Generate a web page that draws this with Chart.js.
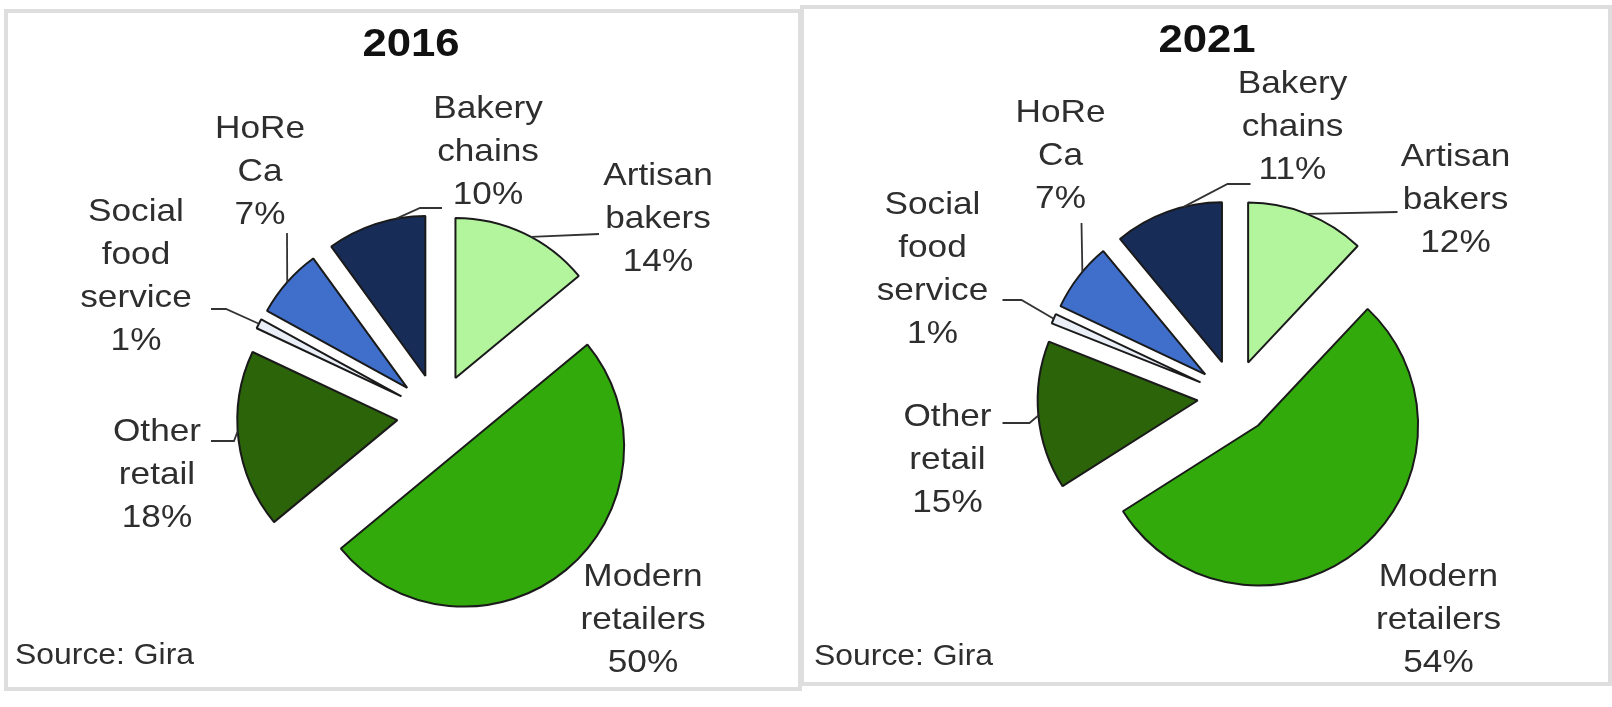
<!DOCTYPE html>
<html>
<head>
<meta charset="utf-8">
<script src="https://cdn.jsdelivr.net/npm/chart.js@4.4.1/dist/chart.umd.min.js"></script>
<style>
    html, body { margin: 0; padding: 0; background: #fff; }
    body { position: relative; width: 1612px; height: 707px; overflow: hidden; }
    .panel { position: absolute; box-sizing: border-box; border: 4px solid #dedede; }
    canvas { position: absolute; }
</style>
</head>
<body>
<div class="panel" id="panel-2016"></div>
<div class="panel" id="panel-2021"></div>
<canvas id="chart-2016"></canvas>
<canvas id="chart-2021"></canvas>

<script>
// Market channels, clockwise from 12 o'clock
const categories = ['Artisan bakers', 'Modern retailers', 'Other retail', 'Social food service', 'HoReCa', 'Bakery chains'];
const labelLines = [['Artisan', 'bakers'], ['Modern', 'retailers'], ['Other', 'retail'], ['Social', 'food', 'service'], ['HoRe', 'Ca'], ['Bakery', 'chains']];
const share2016 = [14, 50, 18, 1, 7, 10];
const share2021 = [12, 54, 15, 1, 7, 11];
const years = ['2016', '2021'];
const sourceText = 'Source: Gira';

const sliceColors = ['#b3f59c', '#33aa0c', '#2c6409', '#e9eef7', '#3f6fcb', '#182c58'];

// Panel boxes on the page
const panels = [
    { x: 4, y: 9, w: 798, h: 682, pad: { left: 70, top: 130 }, explode: 41 },
    { x: 800, y: 5, w: 812, h: 681, pad: { left: 57, top: 103 }, explode: 37 }
];

// Label block positions (first line), relative to pie centre
const labelPos2016 = [[220, -239], [205, 162], [-281, 17], [-302, -203], [-178, -286], [50, -306]];
const labelPos2021 = [[221, -240], [204, 180], [-287, 20], [-302, -192], [-174, -284], [58, -313]];

// Leader lines: t = where on the slice's arc the line lands, pts = points from the text side
const leaders2016 = [
    { t: 0.56, pts: [[161, -181]] },
    null,
    { t: 0.55, pts: [[-227, 26], [-204, 26]] },
    { t: 0.5, pts: [[-227, -106], [-212, -106]] },
    { t: 0.5, pts: [[-151, -182]] },
    { t: 0.71, pts: [[4, -207], [-18, -207]] }
];
const leaders2021 = [
    { t: 0.5, pts: [[163, -185]] },
    null,
    { t: 0.5, pts: [[-232, 26], [-205, 26]] },
    { t: 0.5, pts: [[-232, -97], [-213, -97]] },
    { t: 0.58, pts: [[-153, -174]] },
    { t: 0.65, pts: [[16, -213], [-7, -213]] }
];

const LINE_H = 43;
const TEXT_STRETCH = 1.1;

function stretchedText(ctx, text, x, y, sx) {
    ctx.save();
    ctx.translate(x, y);
    ctx.scale(sx, 1);
    ctx.fillText(text, 0, 0);
    ctx.restore();
}

// Draws each slice pushed out along its middle angle, then labels and leaders
function explodedPie(cfg) {
    return {
        id: 'explodedPie',
        beforeDatasetDraw(chart, args) {
            const ctx = chart.ctx;
            const meta = chart.getDatasetMeta(args.index);
            meta.data.forEach(arc => {
                const mid = (arc.startAngle + arc.endAngle) / 2;
                ctx.save();
                ctx.translate(Math.cos(mid) * cfg.explode, Math.sin(mid) * cfg.explode);
                arc.draw(ctx);
                ctx.restore();
            });
            return false;
        },
        afterDraw(chart) {
            const ctx = chart.ctx;
            const meta = chart.getDatasetMeta(0);
            const values = chart.data.datasets[0].data;
            const cx = meta.data[0].x;
            const cy = meta.data[0].y;

            // leader lines
            ctx.save();
            ctx.strokeStyle = '#333';
            ctx.lineWidth = 1.8;
            meta.data.forEach((arc, i) => {
                const ld = cfg.leaders[i];
                if (!ld) return;
                const mid = (arc.startAngle + arc.endAngle) / 2;
                const a = arc.startAngle + ld.t * (arc.endAngle - arc.startAngle);
                const ex = arc.x + Math.cos(mid) * cfg.explode + Math.cos(a) * arc.outerRadius;
                const ey = arc.y + Math.sin(mid) * cfg.explode + Math.sin(a) * arc.outerRadius;
                ctx.beginPath();
                ld.pts.forEach((p, k) => {
                    if (k === 0) ctx.moveTo(cx + p[0], cy + p[1]);
                    else ctx.lineTo(cx + p[0], cy + p[1]);
                });
                ctx.lineTo(ex, ey);
                ctx.stroke();
            });
            ctx.restore();

            // slice labels
            ctx.save();
            ctx.fillStyle = '#2e2e2e';
            ctx.font = '32px "Liberation Sans", Arial, sans-serif';
            ctx.textAlign = 'center';
            ctx.textBaseline = 'middle';
            labelLines.forEach((lines, i) => {
                const [lx, ly] = cfg.labelPos[i];
                const all = lines.concat([values[i] + '%']);
                all.forEach((txt, k) => {
                    stretchedText(ctx, txt, cx + lx, cy + ly + k * LINE_H, TEXT_STRETCH);
                });
            });

            // year heading
            ctx.fillStyle = '#111';
            ctx.font = 'bold 38px "Liberation Sans", Arial, sans-serif';
            stretchedText(ctx, cfg.title, 407, 37, 1.15);

            // source note
            ctx.fillStyle = '#2e2e2e';
            ctx.font = '29px "Liberation Sans", Arial, sans-serif';
            ctx.textAlign = 'left';
            stretchedText(ctx, sourceText, cfg.source[0], cfg.source[1], 1.1);
            ctx.restore();
        }
    };
}

function buildPie(canvasId, panelId, panel, values, cfg) {
    const box = document.getElementById(panelId);
    box.style.left = panel.x + 'px';
    box.style.top = panel.y + 'px';
    box.style.width = panel.w + 'px';
    box.style.height = panel.h + 'px';

    const canvas = document.getElementById(canvasId);
    canvas.width = panel.w;
    canvas.height = panel.h;
    canvas.style.left = panel.x + 'px';
    canvas.style.top = panel.y + 'px';

    cfg.explode = panel.explode;

    return new Chart(canvas.getContext('2d'), {
        type: 'pie',
        data: {
            labels: categories,
            datasets: [{
                data: values,
                backgroundColor: sliceColors,
                borderColor: '#1a1a1a',
                borderWidth: 2
            }]
        },
        options: {
            responsive: false,
            animation: false,
            radius: 160,
            layout: { padding: { left: panel.pad.left, top: panel.pad.top, right: 0, bottom: 0 } },
            events: [],
            plugins: {
                legend: { display: false },
                tooltip: { enabled: false }
            }
        },
        plugins: [explodedPie(cfg)]
    });
}

buildPie('chart-2016', 'panel-2016', panels[0], share2016,
    { title: years[0], labelPos: labelPos2016, leaders: leaders2016, source: [11, 647] });
buildPie('chart-2021', 'panel-2021', panels[1], share2021,
    { title: years[1], labelPos: labelPos2021, leaders: leaders2021, source: [14, 652] });
</script>
</body>
</html>
